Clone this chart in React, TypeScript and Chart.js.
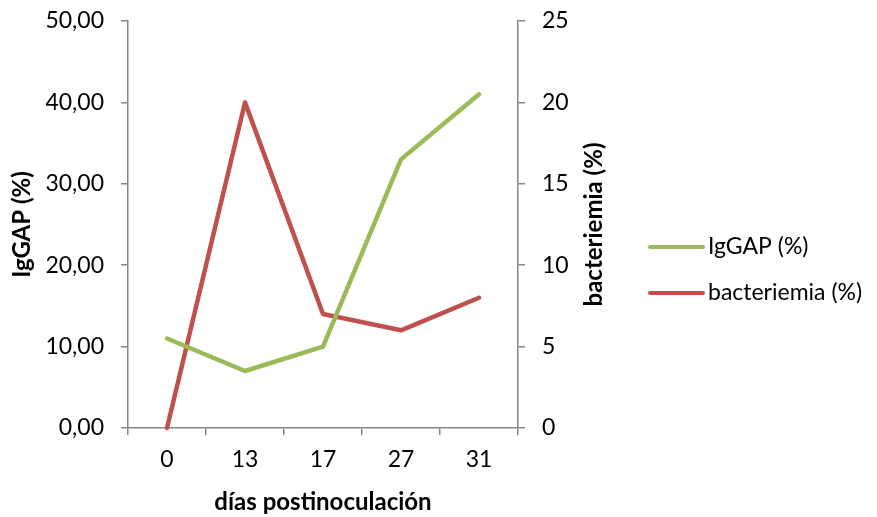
import React, { useEffect, useRef } from "react";
import { Chart, registerables } from "chart.js";

Chart.register(...registerables);

// Days after inoculation
const days = ["0", "13", "17", "27", "31"];
// IgGAP (%), left axis
const iggap = [11, 7, 10, 33, 41];
// bacteriemia (%), right axis
const bacteriemia = [0, 20, 7, 6, 8];

const GREEN = "#9BBB59";
const RED = "#C0504D";
const AXIS = "#868686";
const FONT = "Lato, 'Open Sans', sans-serif";
const RIGHT_TITLE = "bacteriemia (%)";

// Legend on the right plus the right-hand axis title (read bottom to top)
const sideDecor = {
  id: "sideDecor",
  afterDraw(chart: any) {
    const ctx = chart.ctx;
    const x0 = 650;
    const x1 = 703;
    const rows = [247, 293];
    ctx.save();
    chart.data.datasets.forEach((ds: any, i: number) => {
      const y = rows[i];
      ctx.strokeStyle = ds.borderColor;
      ctx.lineWidth = 4;
      ctx.lineCap = "round";
      ctx.beginPath();
      ctx.moveTo(x0, y);
      ctx.lineTo(x1, y);
      ctx.stroke();
      ctx.fillStyle = "#000";
      ctx.font = `23px ${FONT}`;
      ctx.textBaseline = "middle";
      ctx.textAlign = "left";
      ctx.fillText(ds.label, x1 + 5, y);
    });

    const area = chart.chartArea;
    ctx.translate(594, (area.top + area.bottom) / 2);
    ctx.rotate(-Math.PI / 2);
    ctx.font = `bold 24px ${FONT}`;
    ctx.textAlign = "center";
    ctx.textBaseline = "middle";
    ctx.fillStyle = "#000";
    ctx.fillText(RIGHT_TITLE, 0, 0);
    ctx.restore();
  },
};

export default function App() {
  const ref = useRef<HTMLCanvasElement>(null);

  useEffect(() => {
    if (!ref.current) return;
    const tickFont = { family: FONT, size: 23 };
    const titleFont = { family: FONT, size: 24, weight: "bold" as const };
    const chart = new Chart(ref.current, {
      type: "line",
      data: {
        labels: days,
        datasets: [
          {
            label: "IgGAP (%)",
            data: iggap,
            borderColor: GREEN,
            backgroundColor: GREEN,
            borderWidth: 4.5,
            pointRadius: 0,
            borderCapStyle: "round",
            borderJoinStyle: "round",
            tension: 0,
            yAxisID: "y",
            clip: false as any,
          },
          {
            label: "bacteriemia (%)",
            data: bacteriemia,
            borderColor: RED,
            backgroundColor: RED,
            borderWidth: 4.5,
            pointRadius: 0,
            borderCapStyle: "round",
            borderJoinStyle: "round",
            tension: 0,
            yAxisID: "y1",
            clip: false as any,
          },
        ],
      },
      options: {
        responsive: false,
        animation: false,
        layout: { padding: { top: 21, right: 269, bottom: 0, left: 0 } },
        plugins: {
          legend: { display: false },
          tooltip: { enabled: false },
        },
        scales: {
          x: {
            type: "category",
            offset: true,
            grid: {
              offset: true,
              drawOnChartArea: false,
              drawTicks: true,
              tickLength: 7,
              color: AXIS,
              lineWidth: 1.5,
            },
            border: { color: AXIS, width: 1.5 },
            ticks: { color: "#000", font: tickFont, padding: 11, maxRotation: 0 },
            title: {
              display: true,
              text: "días postinoculación",
              color: "#000",
              font: titleFont,
              padding: { top: 3, bottom: 0 },
            },
            afterFit(scale: any) {
              scale.height = 89;
              scale.paddingLeft = 0;
              scale.paddingRight = 0;
            },
          },
          y: {
            position: "left",
            min: 0,
            max: 50,
            ticks: {
              stepSize: 10,
              color: "#000",
              font: tickFont,
              padding: 17,
              callback: (v: any) => Number(v).toFixed(2).replace(".", ","),
            },
            grid: {
              drawOnChartArea: false,
              tickLength: 7,
              color: AXIS,
              lineWidth: 1.5,
            },
            border: { color: AXIS, width: 1.5 },
            title: {
              display: true,
              text: "IgGAP (%)",
              color: "#000",
              font: titleFont,
              padding: { top: 8, bottom: 0 },
            },
            afterFit(scale: any) {
              scale.width = 128;
              scale.paddingTop = 0;
              scale.paddingBottom = 0;
            },
          },
          y1: {
            position: "right",
            min: 0,
            max: 25,
            ticks: { stepSize: 5, color: "#000", font: tickFont, padding: 17 },
            grid: {
              drawOnChartArea: false,
              tickLength: 7,
              color: AXIS,
              lineWidth: 1.5,
            },
            border: { color: AXIS, width: 1.5 },
            title: { display: false },
            afterFit(scale: any) {
              scale.width = 90;
              scale.paddingTop = 0;
              scale.paddingBottom = 0;
            },
          },
        },
      },
      plugins: [sideDecor],
    });
    return () => chart.destroy();
  }, []);

  return (
    <canvas
      ref={ref}
      width={877}
      height={517}
      style={{ position: "fixed", left: 0, top: 0, display: "block", background: "#fff" }}
    />
  );
}
